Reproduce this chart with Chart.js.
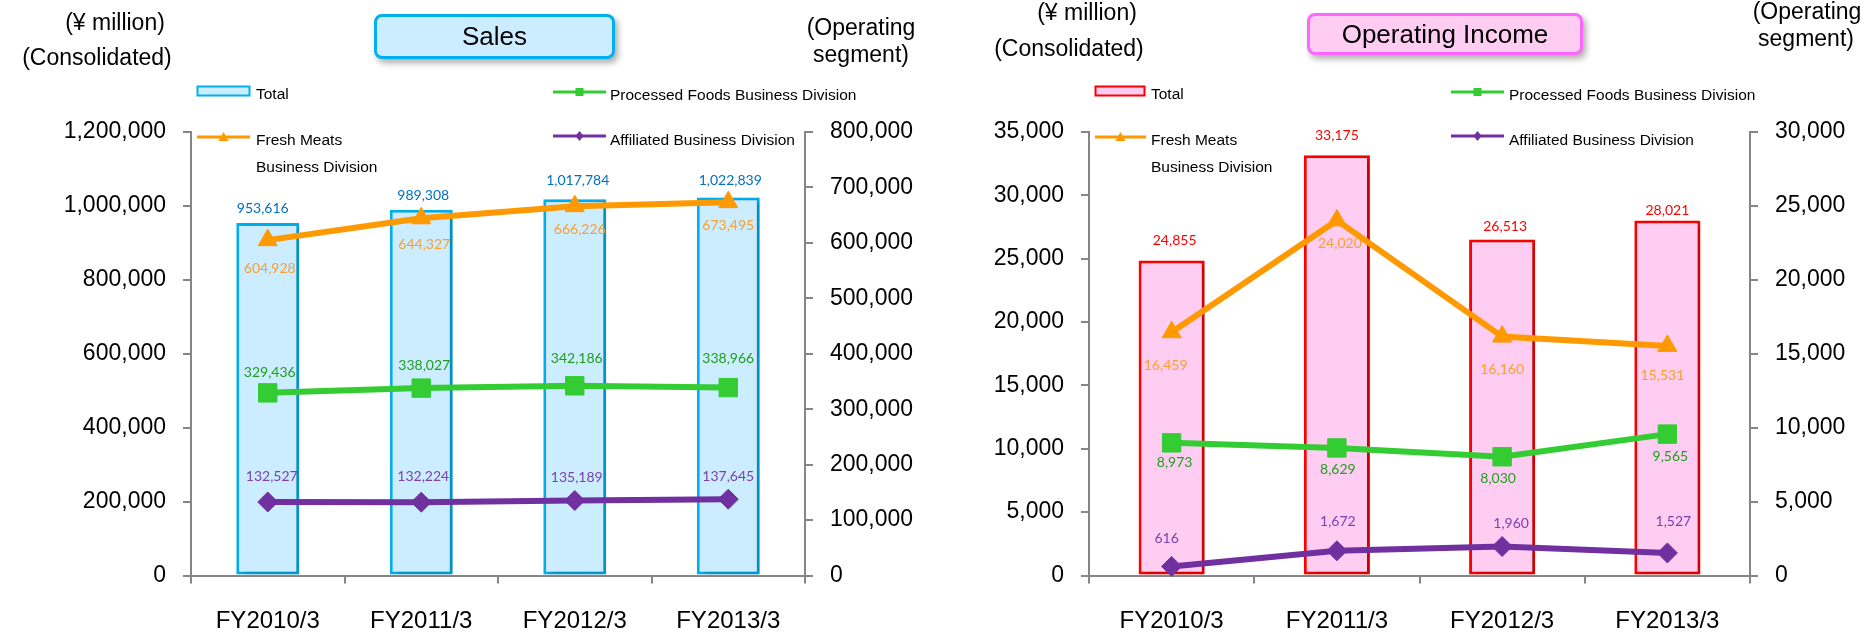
<!DOCTYPE html>
<html>
<head>
<meta charset="utf-8">
<script src="https://cdn.jsdelivr.net/npm/chart.js@4/dist/chart.umd.min.js"></script>
<style>
  html, body { margin: 0; padding: 0; background: #fff; }
  #wrap { position: relative; width: 1876px; height: 636px; overflow: hidden;
          font-family: "Liberation Sans", Arial, sans-serif; color: #000; }
  canvas { position: absolute; top: 0; }
  .c { position: absolute; white-space: nowrap; line-height: 1; transform: translate(-50%, -50%); font-size: 23px; }
  .lg { position: absolute; white-space: nowrap; line-height: 1; transform: translateY(-50%); font-size: 15.5px; }
  .ic { position: absolute; }
  .box { position: absolute; box-sizing: border-box; border-radius: 8px; border: 3px solid;
         display: flex; align-items: center; justify-content: center; font-size: 26px;
         box-shadow: 3px 4px 6px rgba(0,0,0,0.32); }
</style>
</head>
<body>
<div id="wrap">
  <canvas id="salesChart" width="938" height="636" style="left:0"></canvas>
  <canvas id="incomeChart" width="938" height="636" style="left:938px"></canvas>

  <!-- Sales panel headings -->
  <div class="c" style="left:115px;top:22px">(¥ million)</div>
  <div class="c" style="left:97px;top:57px">(Consolidated)</div>
  <div class="c" style="left:861px;top:27px">(Operating</div>
  <div class="c" style="left:861px;top:54px">segment)</div>
  <div class="box" style="left:374px;top:14px;width:241px;height:45px;background:#CCECFF;border-color:#00B0F0">Sales</div>

  <!-- Sales legend -->
  <svg class="ic" style="left:196px;top:85px" width="56" height="13"><rect x="1.5" y="1.5" width="52" height="9" fill="#CCECFF" stroke="#00B0F0" stroke-width="2"/></svg>
  <div class="lg" style="left:256px;top:94px">Total</div>
  <svg class="ic" style="left:197px;top:131px" width="53" height="12"><line x1="0" y1="6" x2="53" y2="6" stroke="#FF9900" stroke-width="3"/><polygon points="26.5,1 31.5,10 21.5,10" fill="#FF9900"/></svg>
  <div class="lg" style="left:256px;top:140px">Fresh Meats</div>
  <div class="lg" style="left:256px;top:167px">Business Division</div>
  <svg class="ic" style="left:553px;top:86px" width="53" height="12"><line x1="0" y1="6" x2="53" y2="6" stroke="#33CC33" stroke-width="3"/><rect x="22.5" y="2" width="8" height="8" fill="#33CC33"/></svg>
  <div class="lg" style="left:610px;top:95px">Processed Foods Business Division</div>
  <svg class="ic" style="left:553px;top:130px" width="53" height="12"><line x1="0" y1="6" x2="53" y2="6" stroke="#7030A0" stroke-width="3"/><polygon points="26.5,1 30.5,6 26.5,11 22.5,6" fill="#7030A0"/></svg>
  <div class="lg" style="left:610px;top:140px">Affiliated Business Division</div>

  <!-- Operating income panel headings -->
  <div class="c" style="left:1087px;top:12px">(¥ million)</div>
  <div class="c" style="left:1069px;top:48px">(Consolidated)</div>
  <div class="c" style="left:1807px;top:11px">(Operating</div>
  <div class="c" style="left:1806px;top:38px">segment)</div>
  <div class="box" style="left:1307px;top:13px;width:276px;height:42px;background:#FFCCF2;border-color:#FF66FF">Operating Income</div>

  <!-- Operating income legend -->
  <svg class="ic" style="left:1094px;top:85px" width="53" height="13"><rect x="1.5" y="1.5" width="49" height="9" fill="#FFCCF2" stroke="#FF0000" stroke-width="2"/></svg>
  <div class="lg" style="left:1151px;top:94px">Total</div>
  <svg class="ic" style="left:1095px;top:131px" width="51" height="12"><line x1="0" y1="6" x2="51" y2="6" stroke="#FF9900" stroke-width="3"/><polygon points="25.5,1 30.5,10 20.5,10" fill="#FF9900"/></svg>
  <div class="lg" style="left:1151px;top:140px">Fresh Meats</div>
  <div class="lg" style="left:1151px;top:167px">Business Division</div>
  <svg class="ic" style="left:1451px;top:86px" width="53" height="12"><line x1="0" y1="6" x2="53" y2="6" stroke="#33CC33" stroke-width="3"/><rect x="22.5" y="2" width="8" height="8" fill="#33CC33"/></svg>
  <div class="lg" style="left:1509px;top:95px">Processed Foods Business Division</div>
  <svg class="ic" style="left:1451px;top:130px" width="53" height="12"><line x1="0" y1="6" x2="53" y2="6" stroke="#7030A0" stroke-width="3"/><polygon points="26.5,1 30.5,6 26.5,11 22.5,6" fill="#7030A0"/></svg>
  <div class="lg" style="left:1509px;top:140px">Affiliated Business Division</div>
</div>

<script>
// Fiscal years on the category axis
const categories = ['FY2010/3', 'FY2011/3', 'FY2012/3', 'FY2013/3'];

// Sales (¥ million)
const salesTotal = [953616, 989308, 1017784, 1022839];
const salesFreshMeats = [604928, 644327, 666226, 673495];
const salesProcessedFoods = [329436, 338027, 342186, 338966];
const salesAffiliated = [132527, 132224, 135189, 137645];

// Operating income (¥ million)
const incomeTotal = [24855, 33175, 26513, 28021];
const incomeFreshMeats = [16459, 24020, 16160, 15531];
const incomeProcessedFoods = [8973, 8629, 8030, 9565];
const incomeAffiliated = [616, 1672, 1960, 1527];

// Axis ranges: [min, max, step]
const salesConsolidatedAxis = [0, 1200000, 200000];
const salesSegmentAxis = [0, 800000, 100000];
const incomeConsolidatedAxis = [0, 35000, 5000];
const incomeSegmentAxis = [0, 30000, 5000];

const FONT = '"Liberation Sans", Arial, sans-serif';
const AXIS_GREY = '#868686';
const fmt = v => Number(v).toLocaleString('en-US');

// Writes each value next to its bar top / line point
const valueLabels = {
  id: 'valueLabels',
  afterDatasetsDraw(chart) {
    const ctx = chart.ctx;
    chart.data.datasets.forEach((ds, i) => {
      const lab = ds.valueLabel;
      if (!lab) return;
      const meta = chart.getDatasetMeta(i);
      ctx.save();
      ctx.font = '14px Lato, "Liberation Sans", sans-serif';
      ctx.fillStyle = lab.color;
      ctx.textAlign = 'center';
      ctx.textBaseline = 'middle';
      meta.data.forEach((el, j) => {
        ctx.fillText(fmt(ds.data[j]), el.x + lab.dx[j], el.y + lab.dy[j]);
      });
      ctx.restore();
    });
  }
};

// Soft drop shadow behind the bars
const barShadow = {
  id: 'barShadow',
  beforeDatasetDraw(chart, args) {
    if (chart.data.datasets[args.index].type !== 'bar') return;
    const c = chart.ctx;
    c.save();
    c.shadowColor = 'rgba(0,0,0,0.22)';
    c.shadowBlur = 6;
    c.shadowOffsetX = 4;
    c.shadowOffsetY = 2;
  },
  afterDatasetDraw(chart, args) {
    if (chart.data.datasets[args.index].type !== 'bar') return;
    chart.ctx.restore();
  }
};

function yAxis(position, range, width) {
  return {
    type: 'linear',
    position,
    min: range[0],
    max: range[1],
    ticks: { stepSize: range[2], color: '#000', font: { family: FONT, size: 23 }, padding: 17, callback: fmt },
    grid: { drawOnChartArea: false, tickLength: 8, color: AXIS_GREY, lineWidth: 2 },
    border: { color: AXIS_GREY, width: 2 },
    afterFit(s) { s.width = width; }
  };
}

function lineSet(label, data, color, style, radius, textColor, dx, dy) {
  return {
    type: 'line', label, data, yAxisID: 'yR',
    borderColor: color, backgroundColor: color,
    pointBackgroundColor: color, pointBorderColor: color,
    borderWidth: 6, pointStyle: style, pointRadius: radius, pointBorderWidth: 1,
    tension: 0, order: 1, clip: false,
    valueLabel: { color: textColor, dx, dy }
  };
}

function buildChart(id, p) {
  return new Chart(document.getElementById(id), {
    type: 'bar',
    data: {
      labels: categories,
      datasets: [
        lineSet('Fresh Meats Business Division', p.fresh, '#FF9900', 'triangle', 11, '#F9A030', p.freshDx, p.freshDy),
        lineSet('Processed Foods Business Division', p.processed, '#33CC33', 'rect', 13, '#1E9E1E', p.procDx, p.procDy),
        lineSet('Affiliated Business Division', p.affiliated, '#7030A0', 'rectRot', 10, '#7B3FAF', p.affDx, p.affDy),
        {
          type: 'bar', label: 'Total', data: p.total, yAxisID: 'yL',
          backgroundColor: p.barFill, borderColor: p.barLine, borderWidth: 3, borderSkipped: false,
          barPercentage: p.barPct, categoryPercentage: 1, order: 5,
          valueLabel: { color: p.totalText, dx: p.totalDx, dy: p.totalDy }
        }
      ]
    },
    options: {
      responsive: false,
      animation: false,
      layout: { padding: { top: 132, left: 0, right: 0, bottom: 0 } },
      plugins: { legend: { display: false }, tooltip: { enabled: false } },
      scales: {
        x: {
          offset: true,
          grid: { offset: true, drawOnChartArea: false, tickLength: 8, color: AXIS_GREY, lineWidth: 2 },
          border: { color: AXIS_GREY, width: 2 },
          ticks: { color: '#000', font: { family: FONT, size: 24 }, padding: 23 },
          afterFit(s) { s.height = 60.5; }
        },
        yL: yAxis('left', p.leftAxis, p.leftW),
        yR: yAxis('right', p.rightAxis, p.rightW)
      }
    },
    plugins: [barShadow, valueLabels]
  });
}

buildChart('salesChart', {
  total: salesTotal, fresh: salesFreshMeats, processed: salesProcessedFoods, affiliated: salesAffiliated,
  leftAxis: salesConsolidatedAxis, rightAxis: salesSegmentAxis, leftW: 191, rightW: 133, barPct: 0.41,
  barFill: '#CCECFF', barLine: '#00B0F0', totalText: '#0070C0',
  totalDx: [-5, 2, 3, 2], totalDy: [-15, -14, -19, -17],
  freshDx: [2, 3, 5, 0], freshDy: [28, 26, 23, 23],
  procDx: [2, 3, 2, 0], procDy: [-20, -23, -27, -29],
  affDx: [4, 2, 2, 0], affDy: [-26, -26, -23, -23]
});

buildChart('incomeChart', {
  total: incomeTotal, fresh: incomeFreshMeats, processed: incomeProcessedFoods, affiliated: incomeAffiliated,
  leftAxis: incomeConsolidatedAxis, rightAxis: incomeSegmentAxis, leftW: 151, rightW: 126, barPct: 0.4,
  barFill: '#FFCCF2', barLine: '#FF0000', totalText: '#FF0000',
  totalDx: [3, 0, 3, 0], totalDy: [-20, -20, -13, -10],
  freshDx: [-6, 3, 0, -5], freshDy: [33, 23, 33, 30],
  procDx: [3, 1, -4, 3], procDy: [20, 22, 22, 22],
  affDx: [-5, 1, 9, 6], affDy: [-28, -29, -23, -31]
});
</script>
</body>
</html>
